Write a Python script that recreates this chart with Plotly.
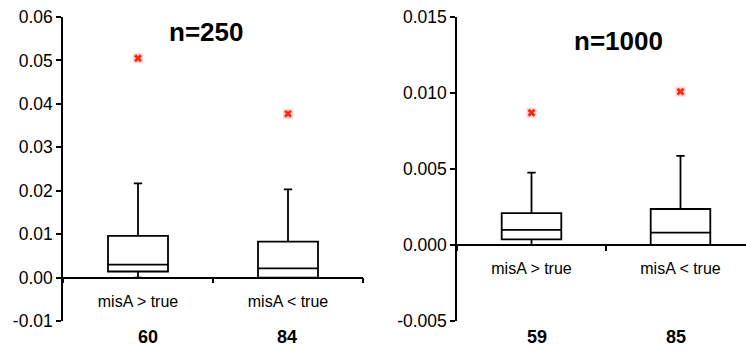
import plotly.graph_objects as go

# ---- data -------------------------------------------------------------
groups = ["misA > true", "misA < true"]

# n = 250
q1_250 = [0.0014, 0.0000]
med_250 = [0.0030, 0.0021]
q3_250 = [0.0096, 0.0083]
lo_250 = [0.0000, 0.0000]
hi_250 = [0.0217, 0.0203]
out_250 = [0.0505, 0.0377]
count_250 = [60, 84]

# n = 1000
q1_1000 = [0.00037, 0.00000]
med_1000 = [0.00099, 0.00081]
q3_1000 = [0.00210, 0.00237]
lo_1000 = [0.00000, 0.00000]
hi_1000 = [0.00476, 0.00586]
out_1000 = [0.00870, 0.01009]
count_1000 = [59, 85]

yticks_250 = [-0.01, 0.0, 0.01, 0.02, 0.03, 0.04, 0.05, 0.06]
yticks_1000 = [-0.005, 0.0, 0.005, 0.010, 0.015]

# ---- layout geometry --------------------------------------------------
W, H = 746, 349
FONT = "Liberation Sans, Arial, sans-serif"
pos = [0.5, 1.5]  # group centres on a numeric axis, groups 1 unit wide

y_dom = [1 - 321 / H, 1 - 17 / H]
x_dom1 = [63 / W, 363 / W]
x_dom2 = [457 / W, 1.0]
yr1 = [yticks_250[0], yticks_250[-1]]
yr2 = [yticks_1000[0], yticks_1000[-1]]
xr2_end = 2 * (W - 457) / (755 - 457)


def zero_position(yr):
    """Paper y-coordinate of data value 0 on a y axis spanning yr."""
    frac = (0 - yr[0]) / (yr[1] - yr[0])
    return y_dom[0] + frac * (y_dom[1] - y_dom[0])


fig = go.Figure()


def add_panel(xa, ya, q1, med, q3, lo, hi, outl):
    fig.add_trace(go.Box(
        x=pos, q1=q1, median=med, q3=q3, lowerfence=lo, upperfence=hi,
        xaxis=xa, yaxis=ya, width=0.4, whiskerwidth=0.14,
        fillcolor="white", line=dict(color="black", width=1.8),
        boxpoints=False, hoverinfo="skip",
    ))
    # outliers: soft square halo with a red cross on top
    fig.add_trace(go.Scatter(
        x=pos, y=outl, xaxis=xa, yaxis=ya, mode="markers",
        marker=dict(symbol="square", size=10, color="rgba(255,90,80,0.25)",
                    line=dict(width=0)),
        hoverinfo="skip",
    ))
    fig.add_trace(go.Scatter(
        x=pos, y=outl, xaxis=xa, yaxis=ya, mode="markers",
        marker=dict(symbol="x", size=7, color="rgba(250,30,10,0.95)",
                    line=dict(width=0)),
        hoverinfo="skip",
    ))


add_panel("x", "y", q1_250, med_250, q3_250, lo_250, hi_250, out_250)
add_panel("x2", "y2", q1_1000, med_1000, q3_1000, lo_1000, hi_1000, out_1000)


def xaxis_cfg(dom, rng, yr):
    return dict(
        domain=dom, range=rng, anchor="free", position=zero_position(yr),
        automargin=False,
        showline=True, linecolor="black", linewidth=1.5,
        tickmode="array", tickvals=pos, ticktext=groups, ticks="",
        ticklabelstandoff=9,
        tickfont=dict(family=FONT, size=16, color="black"),
        minor=dict(tickmode="array", tickvals=[0, 1, 2], ticks="outside",
                   ticklen=5, tickwidth=1.5, tickcolor="black"),
        showgrid=False, zeroline=False, fixedrange=True,
    )


def yaxis_cfg(anchor, rng, ticks, fmt):
    return dict(
        domain=y_dom, range=rng, anchor=anchor, automargin=False,
        showline=True, linecolor="black", linewidth=1.5,
        tickmode="array", tickvals=ticks, ticktext=[fmt.format(v) for v in ticks],
        ticks="outside", ticklen=5, tickwidth=1.5, tickcolor="black",
        tickfont=dict(family=FONT, size=17.5, color="black"),
        showgrid=False, zeroline=False, fixedrange=True,
    )


fig.update_layout(
    width=W, height=H, margin=dict(l=0, r=0, t=0, b=0, autoexpand=False),
    paper_bgcolor="white", plot_bgcolor="white", showlegend=False,
    xaxis=xaxis_cfg(x_dom1, [0, 2], yr1),
    xaxis2=xaxis_cfg(x_dom2, [0, xr2_end], yr2),
    yaxis=yaxis_cfg("x", yr1, yticks_250, "{:.2f}"),
    yaxis2=yaxis_cfg("x2", yr2, yticks_1000, "{:.3f}"),
)

annots = [
    dict(text="<b>n=250</b>", x=206 / W, y=1 - 32 / H, xref="paper", yref="paper",
         xanchor="center", yanchor="middle",
         font=dict(family=FONT, size=26, color="black"), showarrow=False),
    dict(text="<b>n=1000</b>", x=618 / W, y=1 - 41 / H, xref="paper", yref="paper",
         xanchor="center", yanchor="middle",
         font=dict(family=FONT, size=26, color="black"), showarrow=False),
]
for xa, counts, shifts in (("x", count_250, [10, -1]), ("x2", count_1000, [5, -5])):
    for p, c, s in zip(pos, counts, shifts):
        annots.append(dict(
            text=f"<b>{c}</b>", x=p, y=1 - 337 / H, xref=xa, yref="paper",
            xanchor="center", yanchor="middle",
            xshift=s, showarrow=False,
            font=dict(family=FONT, size=18, color="black"),
        ))
fig.update_layout(annotations=annots)

fig.write_html("out.html", config={"displayModeBar": False})
